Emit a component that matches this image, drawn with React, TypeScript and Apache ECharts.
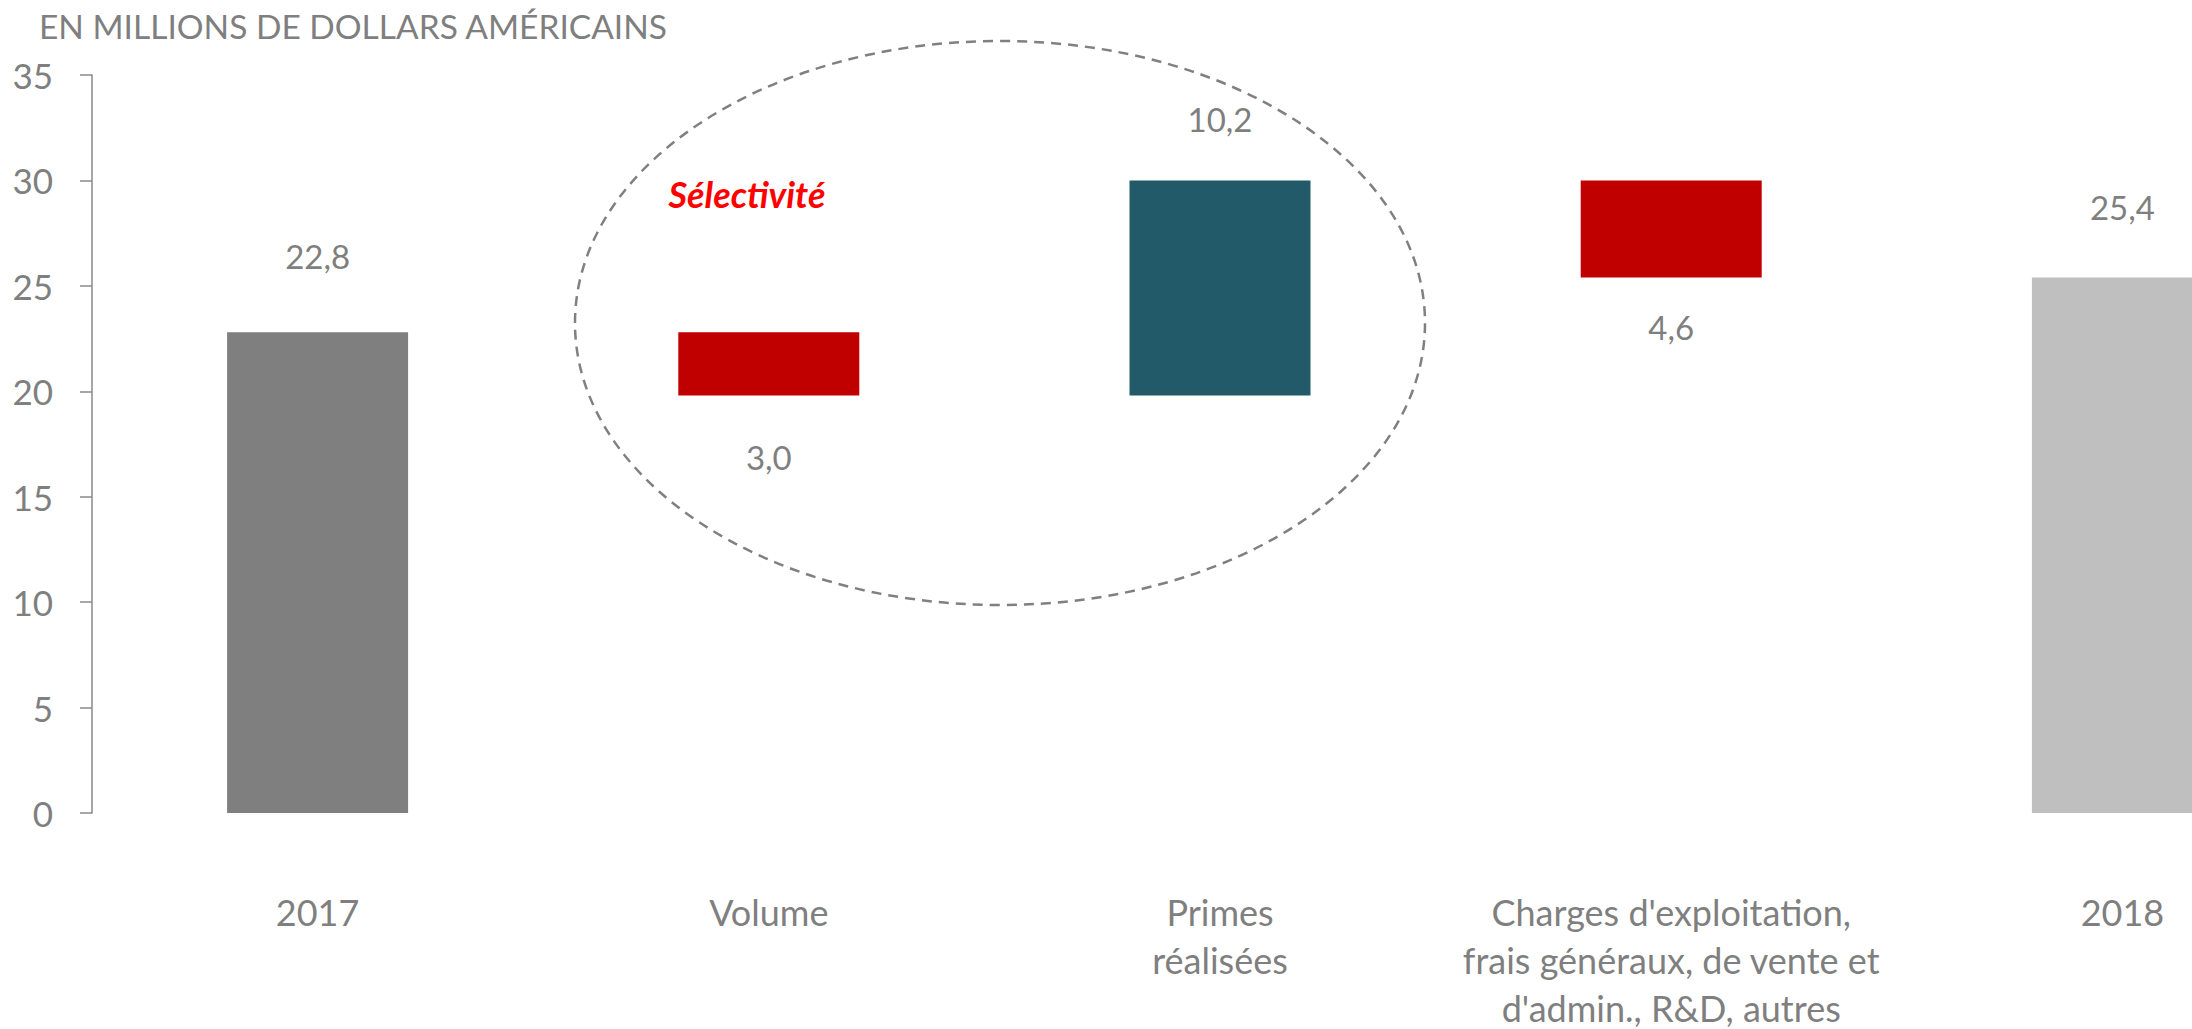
import React, { useEffect, useRef } from "react";
import * as echarts from "echarts";

const categories = [
  "2017",
  "Volume",
  "Primes\nréalisées",
  "Charges d'exploitation,\nfrais généraux, de vente et\nd'admin., R&D, autres",
  "2018",
];
// invisible base of each waterfall step
const baseValues = [0, 19.8, 19.8, 25.4, 0];
// visible step values
const stepValues = [22.8, 3.0, 10.2, 4.6, 25.4];
const yTicks = { min: 0, max: 35, interval: 5 };
const titleText = "EN MILLIONS DE DOLLARS AMÉRICAINS";
const noteText = "Sélectivité";

// styling (not data)
const barColors = ["#7f7f7f", "#c00000", "#225a69", "#c00000", "#bfbfbf"];
const labelPlacement: Array<"top" | "bottom"> = ["top", "bottom", "top", "bottom", "top"];
const labelDistance = [60, 45, 45, 33, 54];

const FONT = "Lato, 'Open Sans', sans-serif";
const GREY = "#7f7f7f";
const CHART_W = 2348;
const CHART_H = 1029;

export default function App() {
  const ref = useRef<HTMLDivElement>(null);

  useEffect(() => {
    if (!ref.current) return;
    const chart = echarts.init(ref.current, null, { renderer: "svg" });
    const fmt = (v: number) => v.toFixed(1).replace(".", ",");

    chart.setOption({
      animation: false,
      backgroundColor: "#ffffff",
      title: {
        text: titleText,
        left: 39,
        top: 9,
        padding: 0,
        textStyle: { fontFamily: FONT, fontSize: 33.5, fontWeight: "normal", color: GREY },
      },
      grid: {
        left: 92,
        top: 75,
        bottom: CHART_H - 813,
        right: 0,
        containLabel: false,
        outerBoundsMode: "none",
      },
      xAxis: {
        type: "category",
        data: categories,
        axisLine: { show: false },
        axisTick: { show: false },
        axisLabel: {
          interval: 0,
          margin: 75,
          fontFamily: FONT,
          fontSize: 36,
          lineHeight: 48,
          color: GREY,
          align: "center",
        },
      },
      yAxis: {
        type: "value",
        min: yTicks.min,
        max: yTicks.max,
        interval: yTicks.interval,
        splitLine: { show: false },
        axisLine: { show: true, lineStyle: { color: "#8a8a8a", width: 1.5 } },
        axisTick: { show: true, inside: false, length: 12, lineStyle: { color: "#8a8a8a", width: 1.5 } },
        axisLabel: { margin: 39, fontFamily: FONT, fontSize: 35, color: GREY },
      },
      series: [
        {
          type: "bar",
          stack: "wf",
          barWidth: 181,
          silent: true,
          itemStyle: { color: "transparent" },
          data: baseValues,
        },
        {
          type: "bar",
          stack: "wf",
          barWidth: 181,
          data: stepValues.map((v, i) => ({
            value: v,
            itemStyle: { color: barColors[i] },
            label: {
              show: true,
              position: labelPlacement[i],
              distance: labelDistance[i],
              formatter: () => fmt(v),
              fontFamily: FONT,
              fontSize: 33,
              lineHeight: 33,
              color: GREY,
            },
          })),
        },
      ],
      graphic: [
        {
          type: "ellipse",
          shape: { cx: 1000, cy: 323, rx: 425, ry: 282 },
          style: { fill: "none", stroke: "#808080", lineWidth: 2.5, lineDash: [10, 7] },
          silent: true,
        },
        {
          type: "text",
          x: 747,
          y: 194,
          style: {
            text: noteText,
            fill: "#ff0000",
            fontFamily: FONT,
            fontSize: 36,
            fontWeight: "bold",
            fontStyle: "italic",
            align: "center",
            verticalAlign: "middle",
          },
        },
      ],
    });

    return () => chart.dispose();
  }, []);

  return (
    <div
      style={{
        position: "fixed",
        left: 0,
        top: 0,
        width: 2192,
        height: 1029,
        overflow: "hidden",
        background: "#fff",
      }}
    >
      <div ref={ref} style={{ width: CHART_W, height: CHART_H }} />
    </div>
  );
}
